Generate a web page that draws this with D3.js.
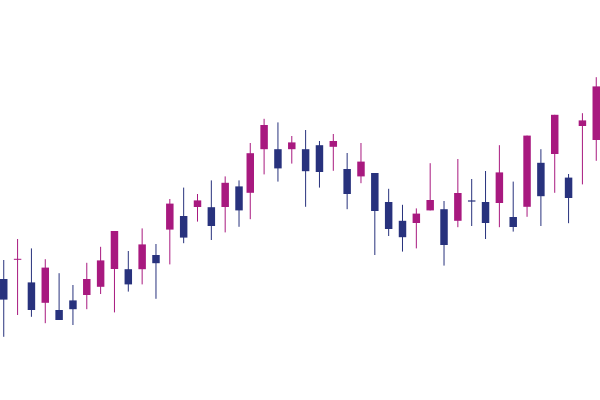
<!DOCTYPE html>
<html>
<head>
<meta charset="utf-8">
<script src="https://cdn.jsdelivr.net/npm/d3@7"></script>
<style>
  html, body { margin: 0; padding: 0; background: #ffffff; }
  svg { display: block; }
</style>
</head>
<body>
<svg id="chart" width="600" height="400"></svg>
<script>
// ---- data ----
const times = [
  "2024-03-01T09:30", "2024-03-02T09:30", "2024-03-03T09:30", "2024-03-04T09:30",
  "2024-03-05T09:30", "2024-03-06T09:30", "2024-03-07T09:30", "2024-03-08T09:30",
  "2024-03-09T09:30", "2024-03-10T09:30", "2024-03-11T09:30", "2024-03-12T09:30",
  "2024-03-13T09:30", "2024-03-14T09:30", "2024-03-15T09:30", "2024-03-16T09:30",
  "2024-03-17T09:30", "2024-03-18T09:30",
  "2024-03-19T05:00", "2024-03-20T05:00", "2024-03-21T05:00", "2024-03-22T05:00",
  "2024-03-23T05:00", "2024-03-24T05:00", "2024-03-25T05:00", "2024-03-26T05:00",
  "2024-03-27T05:00", "2024-03-28T05:00", "2024-03-29T05:00", "2024-03-30T05:00",
  "2024-03-31T05:00", "2024-04-01T05:00", "2024-04-02T05:00", "2024-04-03T05:00",
  "2024-04-04T05:00", "2024-04-05T05:00", "2024-04-06T05:00", "2024-04-07T05:00",
  "2024-04-08T05:00", "2024-04-09T05:00", "2024-04-10T05:00", "2024-04-11T05:00",
  "2024-04-12T05:00", "2024-04-13T05:00"
];
const open  = [130.25,135.1,129.4,124.3,122.5,124.9,126.25,128.3,132.75,132.7,132.7,136.25,
               142.6,146,148.25,148.2,148.25,153.4,151.8,162.7,162.7,162.7,162.7,163.7,
               163.3,157.75,155.9,156.75,149.5,144.8,144.25,147.4,147.7,144.8,149.9,149.5,
               149.25,145.75,148.3,159.3,161.5,155.6,168.5,165];
const high  = [135.0,140.25,137.9,135.2,131.7,128.75,134.3,138.3,142.25,137.25,142.9,139,
               150.25,153.1,151.5,154.9,155.9,154.9,164.25,170.3,169.4,166,167.5,164.75,
               166.5,161.75,164.25,156.75,152.8,148.8,147.9,159.2,149.75,160.25,155.25,157.25,
               163.7,154.6,166.1,162.7,171.3,156.5,171.7,180.7];
const low   = [115.8,121.25,120.8,119.2,120,118.75,122.7,126.5,121.9,127.1,128.9,125.3,
               133.9,139.2,144.6,140,141.9,143.3,145.2,156.4,154.6,159.1,148.3,153.1,
               157.3,147.7,154.2,136.25,141,137.1,137.9,147.4,133.6,143.2,143.5,140.25,
               143.2,142.1,145.8,143.5,151.8,144.2,153.9,159.8];
const close = [125.1,135.3,122.5,133.1,120,122.7,130.25,134.9,142.25,128.9,138.9,134.2,
               149.1,140.6,149.9,143.5,154.3,147.4,161.7,168.75,157.9,164.4,157.2,157,
               164.75,151.5,159.6,147.25,142.75,140.7,146.6,150,138.75,151.75,149.6,144.25,
               156.9,143.25,166.1,150.95,171.3,150.5,169.9,178.4];

const upColor = "#a8197f";
const downColor = "#28327d";

// ---- chart ----
const width = 600, height = 400;
const parse = d3.timeParse("%Y-%m-%dT%H:%M");
const data = times.map((t, i) => ({
  date: parse(t), open: open[i], high: high[i], low: low[i], close: close[i]
}));

const padHours = 6.5;
const x = d3.scaleTime()
  .domain([d3.timeMinute.offset(data[0].date, -padHours * 60),
           d3.timeMinute.offset(data[data.length - 1].date, padHours * 60)])
  .range([0, width]);

const y = d3.scaleLinear().domain([100, 200]).range([height, 0]);

const step = x(data[1].date) - x(data[0].date);
const bodyW = step * 0.54;

const svg = d3.select("#chart");
const g = svg.selectAll("g.candle")
  .data(data)
  .join("g")
  .attr("class", "candle");

g.append("line")
  .attr("x1", d => x(d.date))
  .attr("x2", d => x(d.date))
  .attr("y1", d => y(d.high))
  .attr("y2", d => y(d.low))
  .attr("stroke", d => d.close >= d.open ? upColor : downColor)
  .attr("stroke-width", 1);

g.append("rect")
  .attr("x", d => x(d.date) - bodyW / 2)
  .attr("width", bodyW)
  .attr("y", d => y(Math.max(d.open, d.close)))
  .attr("height", d => Math.max(1, Math.abs(y(d.open) - y(d.close))))
  .attr("fill", d => d.close >= d.open ? upColor : downColor);
</script>
</body>
</html>
